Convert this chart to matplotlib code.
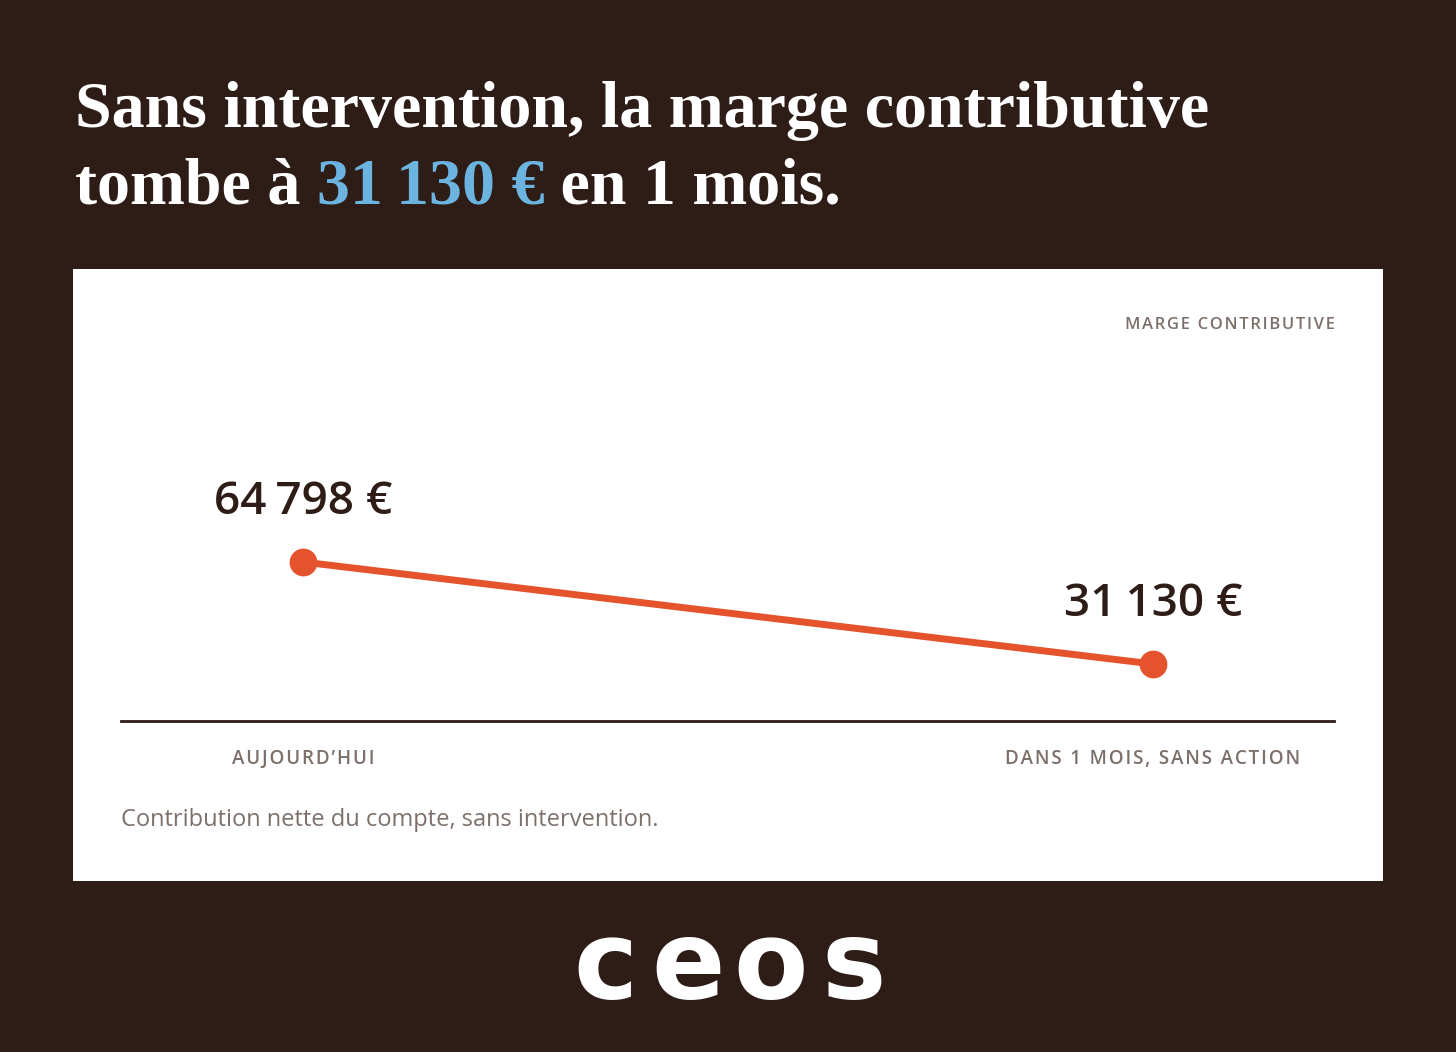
import matplotlib.pyplot as plt
from matplotlib.patches import Rectangle

# data
categories = ["AUJOURD\u2019HUI", "DANS 1 MOIS, SANS ACTION"]
values = [64798, 31130]
value_labels = ["64\u202f798 \u20ac", "31\u202f130 \u20ac"]

BG = "#2e1c17"
ORANGE = "#e5532d"
BLUE = "#6cb4e0"
GREY = "#7d706b"
W, H = 1456, 1052
SANS = ["Open Sans", "DejaVu Sans"]

fig = plt.figure(figsize=(W / 100, H / 100), dpi=100)
fig.patch.set_facecolor(BG)


def fx(px):
    return px / W


def fy(py):
    return 1 - py / H


# white card
fig.patches.append(Rectangle((fx(73), fy(881)), fx(1383) - fx(73), fy(269) - fy(881),
                             transform=fig.transFigure, facecolor="white", edgecolor="none",
                             zorder=-5))

# title
tkw = dict(fontsize=47.5, fontweight="bold", family=["Liberation Serif", "DejaVu Serif"], va="baseline")
fig.text(fx(75), fy(127), "Sans intervention, la marge contributive", color="white", **tkw)
t1 = fig.text(fx(75), fy(204), "tombe \u00e0 ", color="white", **tkw)
r = fig.canvas.get_renderer()
x = t1.get_window_extent(r).x1
t2 = fig.text(x / W, fy(204), "31\u202f130 \u20ac", color=BLUE, **tkw)
x = t2.get_window_extent(r).x1
fig.text(x / W, fy(204), " en 1 mois.", color="white", **tkw)

# axes
ax_top, ax_bot, ax_l, ax_r = 300, 721, 121, 1334
ax = fig.add_axes([fx(ax_l), fy(ax_bot), fx(ax_r) - fx(ax_l), fy(ax_top) - fy(ax_bot)])
ax.set_facecolor("none")
per_px = (values[0] - values[1]) / (664 - 562)
ymin = values[1] - (ax_bot - 664) * per_px
ax.set_ylim(ymin, ymin + (ax_bot - ax_top) * per_px)
xs = [0, 1]
ppu = 1153 - 303
ax.set_xlim(-(303 - ax_l) / ppu, 1 + (ax_r - 1153) / ppu)
ax.plot(xs, values, color=ORANGE, lw=5, marker="o", ms=19, solid_capstyle="round", clip_on=False)
for xi, v, lab in zip(xs, values, value_labels):
    ax.annotate(lab, (xi, v), xytext=(0, 27), textcoords="offset points", ha="center",
                va="bottom", fontsize=33, fontweight="semibold", family=SANS, color=BG)
for s in ["left", "right", "top"]:
    ax.spines[s].set_visible(False)
ax.spines["bottom"].set_color(BG)
ax.spines["bottom"].set_linewidth(2)
ax.set_xticks(xs)
ax.set_xticklabels(["\u200a".join(c) for c in categories], fontsize=13.5,
                   color=GREY, family=SANS, fontweight="semibold")
ax.tick_params(axis="x", length=0, pad=20)
ax.set_yticks([])

fig.text(fx(1335), fy(325), "\u200a".join("MARGE CONTRIBUTIVE"), ha="right", va="center",
         fontsize=12, color=GREY, family=SANS, fontweight="semibold")
fig.text(fx(121), fy(820), "Contribution nette du compte, sans intervention.", ha="left",
         va="center", fontsize=17, color=GREY, family=SANS)

# logo, letters spaced out
for i, ch in enumerate("ceos"):
    fig.text(fx(605 + i * 83), fy(968), ch, ha="center", va="center", fontsize=78,
             color="white", family=["DejaVu Sans"], fontweight="bold")

fig.savefig("out.png", dpi=100, facecolor=BG)
